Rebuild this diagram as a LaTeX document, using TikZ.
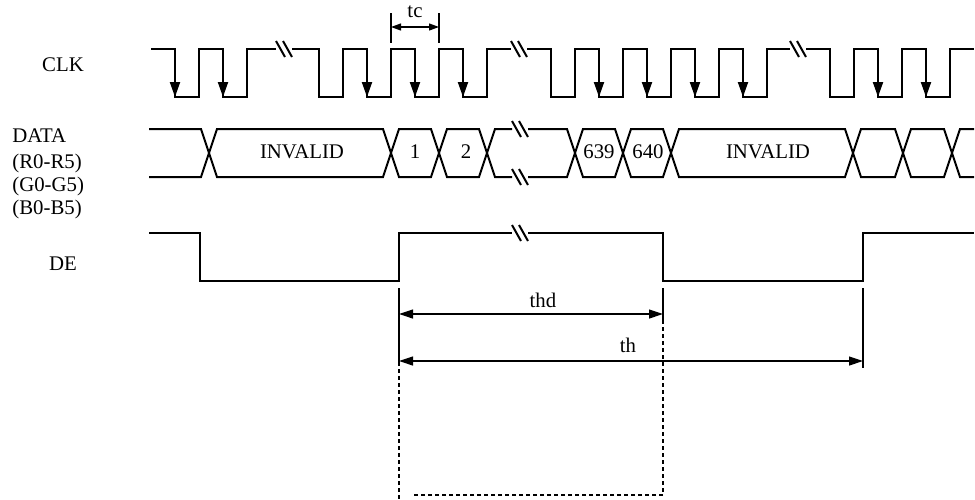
\documentclass[tikz,border=0pt]{standalone}
\usepackage{fontspec}
\setmainfont{Liberation Serif}
\usetikzlibrary{arrows.meta,positioning}

% broken line: gap with two slanted marks, #1 = start of gap, #2 = level
\newcommand{\brkmark}[2]{%
  \draw[wave] (#1,#2-8) -- (#1+9,#2+8) (#1+7,#2-8) -- (#1+16,#2+8);}
% one data word between two crossings
\newcommand{\datacell}[2]{%
  \draw[wave] (#1,153) -- (#1+8,129) -- (#2-8,129) -- (#2,153) -- (#2-8,177) -- (#1+8,177) -- cycle;}

\begin{document}
\begin{tikzpicture}[
    x=0.5pt, y=-0.5pt,
    font=\fontsize{10.4}{12}\selectfont,
    wave/.style={line width=1pt, line join=miter},
    clkedge/.style={line width=1pt, -{Triangle[length=7.5pt,width=5pt]}},
    dimarrow/.style={line width=0.6pt, {Triangle[length=7pt,width=4.5pt]}-{Triangle[length=7pt,width=4.5pt]}},
    tcarrow/.style={line width=0.6pt, {Triangle[length=5pt,width=3.5pt]}-{Triangle[length=5pt,width=3.5pt]}},
    extline/.style={line width=0.6pt},
    extdash/.style={line width=0.8pt, dash pattern=on 2pt off 1.5pt},
    txt/.style={inner sep=0pt, anchor=base}
]
\useasboundingbox (0,0) rectangle (975,499);

% Signal names
\node[txt] (clk) at (63,71) {CLK};
\node[txt, anchor=base west] (data) at (12,142) {DATA};
\node[txt, anchor=base west] (rgrp) at (12,168) {(R0-R5)};
\node[txt, anchor=base west] (ggrp) at (12,191) {(G0-G5)};
\node[txt, anchor=base west] (bgrp) at (12,214) {(B0-B5)};
\node[txt] (de) at (63,270) {DE};

% CLK
\draw[wave] (151,49) -- (175,49) -- (175,97) -- (199,97) -- (199,49) -- (223,49) -- (223,97)
    -- (247,97) -- (247,49) -- (276,49);
\brkmark{276}{49}
\draw[wave] (292,49) -- (319,49) -- (319,97) -- (343,97) -- (343,49) -- (367,49) -- (367,97)
    -- (391,97) -- (391,49) -- (415,49) -- (415,97) -- (439,97) -- (439,49) -- (463,49)
    -- (463,97) -- (487,97) -- (487,49) -- (511,49);
\brkmark{511}{49}
\draw[wave] (527,49) -- (551,49) -- (551,97) -- (575,97) -- (575,49) -- (599,49) -- (599,97)
    -- (623,97) -- (623,49) -- (647,49) -- (647,97) -- (671,97) -- (671,49) -- (695,49)
    -- (695,97) -- (719,97) -- (719,49) -- (743,49) -- (743,97) -- (767,97) -- (767,49) -- (790,49);
\brkmark{790}{49}
\draw[wave] (806,49) -- (830,49) -- (830,97) -- (854,97) -- (854,49) -- (878,49) -- (878,97)
    -- (902,97) -- (902,49) -- (926,49) -- (926,97) -- (950,97) -- (950,49) -- (974,49);
\foreach \x in {175,223,367,415,463,599,647,695,743,878,926}
  \draw[clkedge] (\x,49) -- (\x,97);

% tc
\coordinate (tcL) at (391,27);
\coordinate (tcR) at (439,27);
\draw[extline] (391,13) -- (391,43) (439,13) -- (439,43);
\draw[tcarrow] (tcL) -- (tcR);
\node[txt] (tc) at (415,17) {tc};

% DATA
\draw[wave] (149,129) -- (201,129) -- (209,153) -- (201,177) -- (149,177);
\datacell{209}{391}
\datacell{391}{439}
\datacell{439}{487}
\draw[wave] (512,129) -- (495,129) -- (487,153) -- (495,177) -- (512,177);
\draw[wave] (528,129) -- (567,129) -- (575,153) -- (567,177) -- (528,177);
\brkmark{512}{129}
\brkmark{512}{177}
\datacell{575}{623}
\datacell{623}{671}
\datacell{671}{853}
\datacell{853}{903}
\datacell{903}{952}
\draw[wave] (974,129) -- (960,129) -- (952,153) -- (960,177) -- (974,177);
\node[txt] (inv1) at (302,158) {INVALID};
\node[txt] (w1) at (415,158) {1};
\node[txt] (w2) at (466,158) {2};
\node[txt] (w639) at (599,158) {639};
\node[txt] (w640) at (648,158) {640};
\node[txt] (inv2) at (768,158) {INVALID};

% DE
\draw[wave] (149,233) -- (200,233) -- (200,281) -- (399,281) -- (399,233) -- (512,233);
\brkmark{512}{233}
\draw[wave] (528,233) -- (663,233) -- (663,281) -- (863,281) -- (863,233) -- (974,233);

% thd, th
\coordinate (thdL) at (399,314);
\coordinate (thdR) at (663,314);
\coordinate (thL) at (399,361);
\coordinate (thR) at (863,361);
\draw[extline] (399,288) -- (399,362);
\draw[extline] (663,288) -- (663,320);
\draw[extline] (863,288) -- (863,368);
\draw[extdash] (399,362) -- (399,499);
\draw[extdash] (663,320) -- (663,495) -- (414,495);
\draw[dimarrow] (thdL) -- (thdR);
\draw[dimarrow] (thL) -- (thR);
\node[txt] (thd) at (543,307) {thd};
\node[txt] (th) at (628,352) {th};

\end{tikzpicture}
\end{document}
